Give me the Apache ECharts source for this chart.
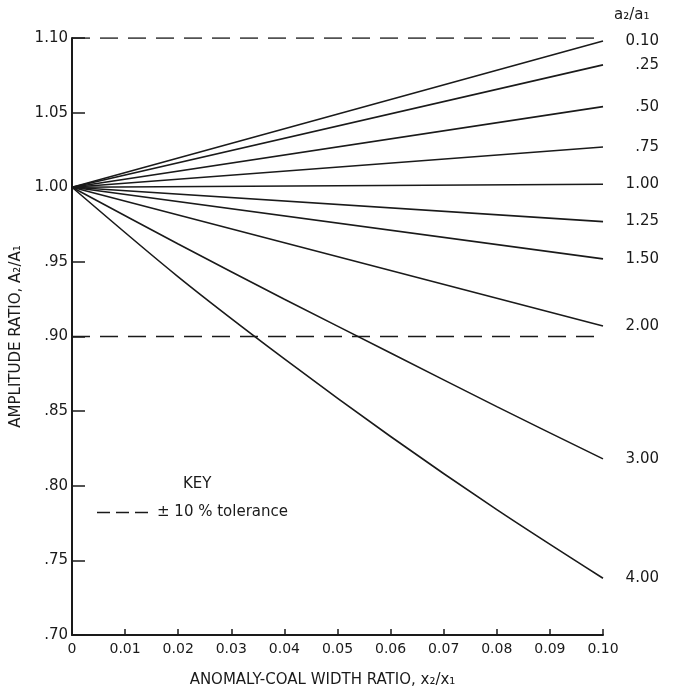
<!DOCTYPE html>
<head>
    <meta charset="UTF-8">
    <title>Amplitude ratio</title>
</head>
<body style="margin:0;background:#fff">
<div id="main" style="width:679px;height:694px"></div>
<script src="https://cdn.jsdelivr.net/npm/echarts@6/dist/echarts.min.js"></script>
<script type="text/javascript">
// a2/a1 curve labels and where each line ends at x2/x1 = 0.10
var ratioLabels = ['0.10', '.25', '.50', '.75', '1.00', '1.25', '1.50', '2.00', '3.00', '4.00'];
var lineX = [0, 0.10];
var lineEnds = [1.098, 1.082, 1.054, 1.027, 1.002, 0.977, 0.952, 0.907, 0.818, 0.738];
// the two steepest lines bow slightly
var curveX = [0, 0.02, 0.04, 0.06, 0.08, 0.10];
var curve300 = [1.000, 0.962, 0.925, 0.889, 0.853, 0.818];
var curve400 = [1.000, 0.940, 0.885, 0.833, 0.784, 0.738];
var tolX = [0, 0.10];
var tolUpper = [1.10, 1.10];
var tolLower = [0.90, 0.90];

var font = 'DejaVu Sans';
var ink = '#1a1a1a';

var series = [];
for (var i = 0; i < ratioLabels.length; i++) {
    var xs = lineX, ys = [1.00, lineEnds[i]];
    if (ratioLabels[i] == '3.00') { xs = curveX; ys = curve300; }
    if (ratioLabels[i] == '4.00') { xs = curveX; ys = curve400; }
    var pts = [];
    for (var j = 0; j < xs.length; j++) pts.push([xs[j], ys[j]]);
    series.push({
        name: ratioLabels[i],
        type: 'line',
        data: pts,
        symbol: 'none',
        smooth: 0.3,
        silent: true,
        itemStyle: {color: ink},
        lineStyle: {color: ink, width: 1.6},
        endLabel: {
            show: true,
            distance: 6,
            formatter: '{v|{a}}',
            rich: {v: {width: 50, align: 'right', fontFamily: font, fontSize: 15, color: ink}}
        }
    });
}
function tolSeries(name, vals) {
    var pts = [];
    for (var j = 0; j < tolX.length; j++) pts.push([tolX[j], vals[j]]);
    return {
        name: name, type: 'line', data: pts, symbol: 'none', silent: true,
        itemStyle: {color: ink},
        lineStyle: {color: ink, width: 1.4, type: [18, 10]}
    };
}
series.push(tolSeries('± 10 % tolerance', tolUpper));
series.push(tolSeries('± 10 % tolerance', tolLower));

var option = {
    backgroundColor: '#fff',
    animation: false,
    title: {
        text: 'KEY', left: 178, top: 472,
        textStyle: {fontFamily: font, fontSize: 15, fontWeight: 'normal', color: ink}
    },
    legend: {
        left: 92, top: 500,
        data: ['± 10 % tolerance'],
        icon: 'path://M0,0H13V1.4H0Z M19,0H32V1.4H19Z M38,0H51V1.4H38Z',
        itemWidth: 51, itemHeight: 1.4, itemGap: 6,
        textStyle: {fontFamily: font, fontSize: 15, color: ink, padding: [0, 0, 0, 4]}
    },
    graphic: [{
        type: 'text', left: 614, top: 8,
        style: {text: 'a₂/a₁', font: '15px "DejaVu Sans"', fill: ink}
    }],
    grid: {left: 72, right: 76, top: 38, bottom: 59},
    xAxis: {
        type: 'value', min: 0, max: 0.10, interval: 0.01,
        name: 'ANOMALY-COAL WIDTH RATIO, x₂/x₁',
        nameLocation: 'middle', nameGap: 38,
        nameTextStyle: {fontFamily: font, fontSize: 15, color: ink, padding: [0, 30, 0, 0]},
        axisLine: {lineStyle: {color: ink, width: 2}},
        axisTick: {inside: true, length: 6, lineStyle: {color: ink, width: 1.5}},
        splitLine: {show: false},
        axisLabel: {
            fontFamily: font, fontSize: 14, color: ink, margin: 7,
            formatter: function (v) { return v == 0 ? '0' : v.toFixed(2); }
        }
    },
    yAxis: {
        type: 'value', min: 0.70, max: 1.10, interval: 0.05,
        name: 'AMPLITUDE RATIO, A₂/A₁',
        nameLocation: 'middle', nameGap: 42,
        nameTextStyle: {fontFamily: font, fontSize: 15, color: ink, padding: [0, 0, 0, 0]},
        axisLine: {lineStyle: {color: ink, width: 2}},
        axisTick: {inside: true, length: 13, lineStyle: {color: ink, width: 1.5}},
        splitLine: {show: false},
        axisLabel: {
            fontFamily: font, fontSize: 15, color: ink, margin: 4,
            formatter: function (v) {
                var s = v.toFixed(2);
                return v < 1 ? s.slice(1) : s;
            }
        }
    },
    series: series
};

var myChart = echarts.init(document.getElementById('main'));
myChart.setOption(option);
</script>
</body>
